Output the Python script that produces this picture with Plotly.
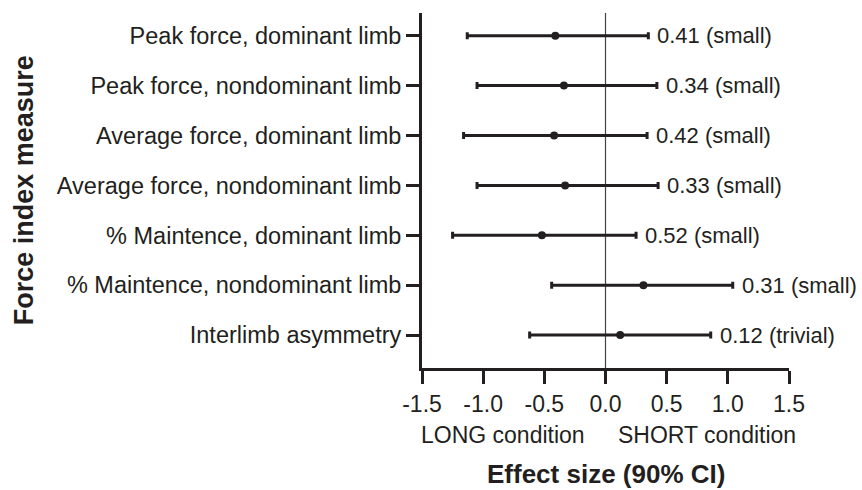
import plotly.graph_objects as go

# data
measures = [
    "Peak force, dominant limb",
    "Peak force, nondominant limb",
    "Average force, dominant limb",
    "Average force, nondominant limb",
    "% Maintence, dominant limb",
    "% Maintence, nondominant limb",
    "Interlimb asymmetry",
]
effect = [-0.41, -0.34, -0.42, -0.33, -0.52, 0.31, 0.12]
ci_low = [-1.13, -1.05, -1.16, -1.05, -1.25, -0.44, -0.62]
ci_high = [0.35, 0.42, 0.34, 0.43, 0.25, 1.04, 0.86]
labels = ["0.41 (small)", "0.34 (small)", "0.42 (small)", "0.33 (small)",
          "0.52 (small)", "0.31 (small)", "0.12 (trivial)"]
x_ticks = [-1.5, -1.0, -0.5, 0.0, 0.5, 1.0, 1.5]
side_labels = ["LONG condition", "SHORT condition"]
side_x = [-0.84, 0.83]

INK = "#231f20"
FONT = "Liberation Sans, Arial, sans-serif"

fig = go.Figure()

# reference line at zero
fig.add_trace(go.Scatter(
    x=[0, 0], y=[-0.455, 6.66], mode="lines",
    line=dict(color="#444444", width=1.2), showlegend=False, hoverinfo="skip"
))

fig.add_trace(go.Scatter(
    x=effect, y=list(range(len(measures))), mode="markers",
    marker=dict(color=INK, size=8),
    error_x=dict(
        type="data", symmetric=False,
        array=[h - e for h, e in zip(ci_high, effect)],
        arrayminus=[e - l for e, l in zip(effect, ci_low)],
        color=INK, thickness=3, width=3.5,
    ),
    showlegend=False,
))

for i, (hi, txt) in enumerate(zip(ci_high, labels)):
    fig.add_annotation(x=hi, y=i, text=txt, showarrow=False, xanchor="left",
                       yanchor="middle", xshift=7,
                       font=dict(size=22, color=INK, family=FONT))

# condition labels and axis titles
for sx, st in zip(side_x, side_labels):
    fig.add_annotation(x=sx, y=-0.189, xref="x", yref="paper", text=st,
                       showarrow=False, xanchor="center", yanchor="middle",
                       font=dict(size=23, color=INK, family=FONT))
fig.add_annotation(x=0.5, y=-0.298, xref="paper", yref="paper",
                   text="<b>Effect size (90% CI)</b>", showarrow=False,
                   xanchor="center", yanchor="middle",
                   font=dict(size=26, color=INK, family=FONT))
fig.add_annotation(x=-1.085, y=0.5, xref="paper", yref="paper",
                   text="<b>Force index measure</b>", textangle=-90, showarrow=False,
                   xanchor="center", yanchor="middle",
                   font=dict(size=27, color=INK, family=FONT))

fig.update_xaxes(
    range=[-1.5, 1.5], tickvals=x_ticks, ticktext=[f"{v:.1f}" for v in x_ticks],
    showgrid=False, zeroline=False, showline=True, linecolor=INK, linewidth=3,
    ticks="outside", ticklen=13, tickwidth=3, tickcolor=INK,
    tickfont=dict(size=23, color=INK, family=FONT),
)
fig.update_yaxes(
    range=[6.66, -0.455], tickvals=list(range(len(measures))), ticktext=measures,
    showgrid=False, zeroline=False, showline=True, linecolor=INK, linewidth=3,
    ticks="outside", ticklen=13, tickwidth=3, tickcolor=INK,
    tickfont=dict(size=23.5, color=INK, family=FONT),
)

fig.update_layout(
    width=862, height=490,
    margin=dict(l=422, r=73, t=13, b=122),
    plot_bgcolor="white", paper_bgcolor="white",
    font=dict(family=FONT, color=INK),
)

# drop the default page margin so the figure sits at the window's corner
fig.write_html("out.html", config={"displayModeBar": False},
               post_script="document.body.style.margin='0';")
